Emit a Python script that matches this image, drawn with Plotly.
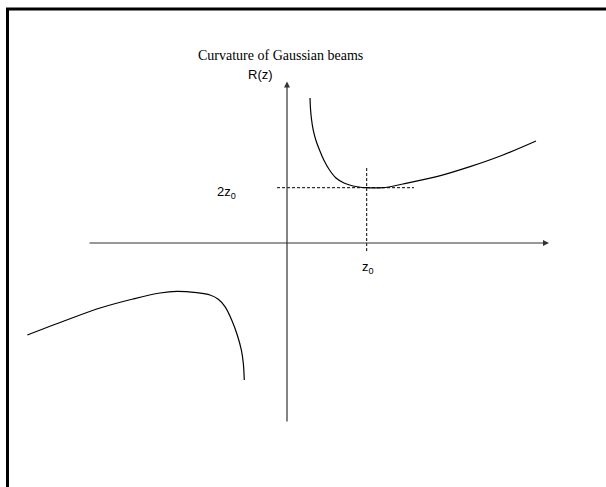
import plotly.graph_objects as go

# Data units: z in units of z0, R in units of z0 (2z0 -> R=2)
right_z = [0.2886, 0.2961, 0.3087, 0.3287, 0.3614, 0.4078, 0.4617, 0.5333, 0.6148, 0.7152,
           0.8281, 0.9410, 1.0038, 1.204, 1.455, 1.878, 2.296, 2.710, 3.124]
right_R = [5.244, 4.810, 4.448, 4.087, 3.725, 3.363, 3.002, 2.640, 2.351, 2.170,
           2.061, 2.007, 2.000, 2.0, 2.134, 2.398, 2.760, 3.183, 3.689]

left_z = [-3.258, -2.764, -2.346, -1.932, -1.594, -1.384, -1.133, -0.966, -0.862, -0.778,
          -0.694, -0.624, -0.573, -0.548, -0.536]
left_R = [-3.327, -2.785, -2.351, -2.025, -1.808, -1.747, -1.797, -1.881, -2.036, -2.304,
          -2.785, -3.327, -3.870, -4.351, -4.955]

z0 = 1.0
R_min = 2.0

W, H = 606, 487
x_range = [-3.601, 4.0025]
y_range = [-8.825, 8.788]

fig = go.Figure()
for zs, Rs in [(right_z, right_R), (left_z, left_R)]:
    fig.add_trace(go.Scatter(x=zs, y=Rs, mode="lines",
                             line=dict(color="black", width=1.2, shape="spline", smoothing=1.0),
                             hoverinfo="skip", showlegend=False))

axis_col = "#333333"
# horizontal axis
fig.add_annotation(x=3.287, y=0, ax=-2.497, ay=0, xref="x", yref="y", axref="x", ayref="y",
                   showarrow=True, arrowhead=2, arrowsize=1, arrowwidth=1.2, arrowcolor=axis_col, text="")
# vertical axis
fig.add_annotation(x=0, y=5.84, ax=0, ay=-6.51, xref="x", yref="y", axref="x", ayref="y",
                   showarrow=True, arrowhead=2, arrowsize=1, arrowwidth=1.2, arrowcolor=axis_col, text="")

# dashed guides
fig.add_shape(type="line", x0=-0.125, x1=1.593, y0=R_min, y1=R_min, xref="x", yref="y",
              line=dict(color="black", width=1, dash="3px,2px"))
fig.add_shape(type="line", x0=z0, x1=z0, y0=2.71, y1=-0.36, xref="x", yref="y",
              line=dict(color="black", width=1, dash="3px,2px"))

lab_font = dict(family="Liberation Sans, Arial", size=13, color="black")
fig.add_annotation(x=-0.755, y=1.84, text="2z<sub>0</sub>", showarrow=False, font=lab_font)
fig.add_annotation(x=1.02, y=-0.88, text="z<sub>0</sub>", showarrow=False, font=lab_font)
fig.add_annotation(x=-0.15, y=6.08, text="R(z)", showarrow=False, font=lab_font, xanchor="right")

# title
fig.add_annotation(x=280 / W, y=1 - 46 / H, xref="paper", yref="paper",
                   text="Curvature of Gaussian beams", showarrow=False,
                   font=dict(family="Liberation Serif, Times New Roman", size=14, color="black"))

# frame (only top and left edges visible)
fig.add_shape(type="rect", xref="paper", yref="paper", x0=7.5 / W, y0=1 - 9 / H, x1=1.1, y1=-0.1,
              line=dict(color="black", width=3), layer="above")

fig.update_xaxes(range=x_range, visible=False, fixedrange=True)
fig.update_yaxes(range=y_range, visible=False, fixedrange=True)
fig.update_layout(width=W, height=H, margin=dict(l=0, r=0, t=0, b=0),
                  paper_bgcolor="white", plot_bgcolor="white")

fig.write_html("out.html", config={"displayModeBar": False},
               post_script="document.body.style.margin='0';document.body.style.overflow='hidden';")
